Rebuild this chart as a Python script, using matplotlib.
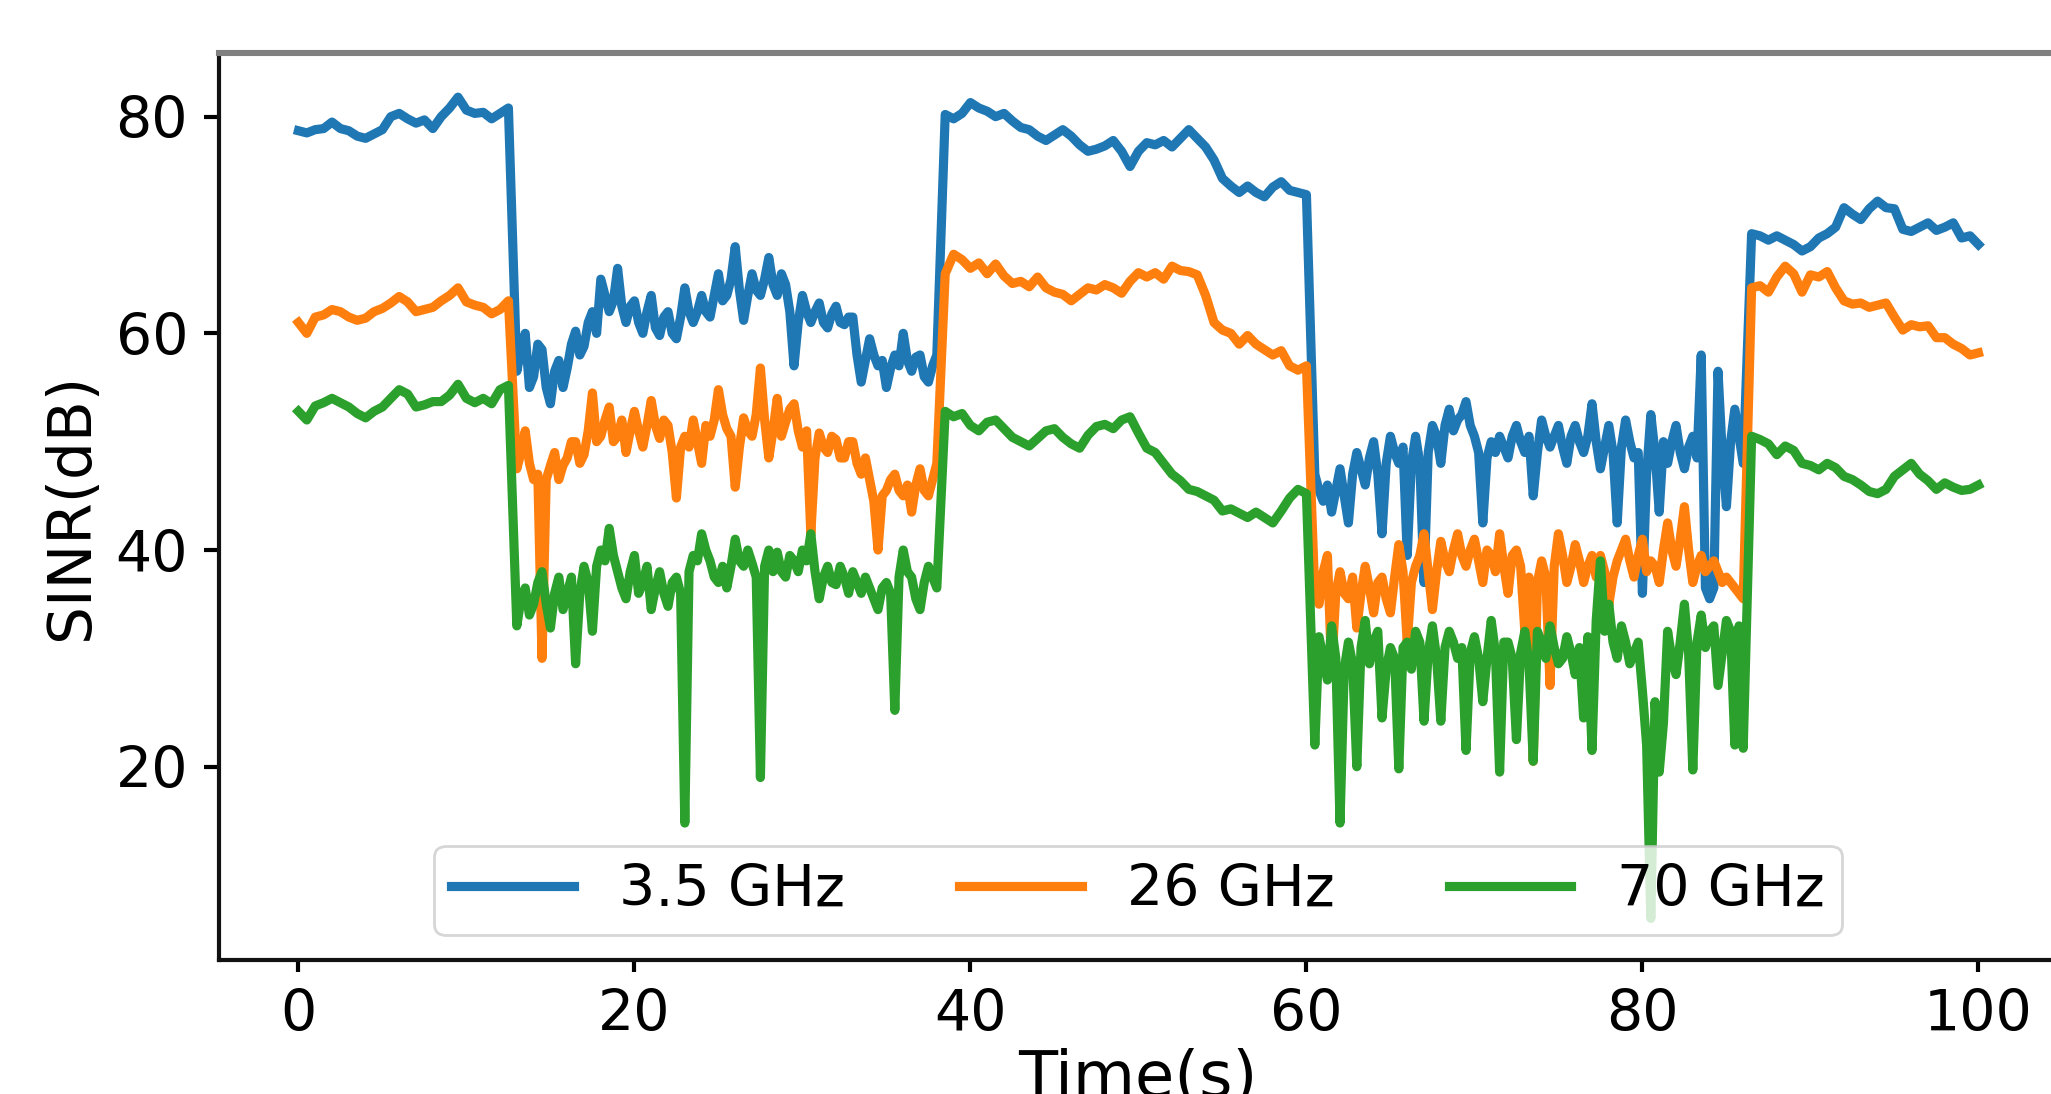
import matplotlib

matplotlib.use("Agg")
import matplotlib.pyplot as plt
import numpy as np

# sample times (s), 0.5 s grid
TIME = np.arange(0, 100.5, 0.5)
# extra in-between samples for the two noisy stretches (13-38 s, 60.5-86 s)
MID_TIME = np.concatenate([np.arange(13.25, 38.0, 0.5), np.arange(60.75, 86.0, 0.5)])

SINR_3_5GHZ = [
    # 0 - 12.5 s
    78.7, 78.5, 78.8, 78.9, 79.5, 78.9, 78.7, 78.2, 78.0, 78.4,
    78.8, 80.0, 80.3, 79.8, 79.4, 79.7, 78.9, 80.0, 80.8, 81.8,
    80.6, 80.3, 80.4, 79.8, 80.3, 80.8,
    # 13 - 38 s
    56.5, 60.0, 56.0, 58.5, 53.5, 57.5, 56.8, 60.2, 58.8, 62.0,
    65.0, 62.0, 66.0, 61.0, 63.0, 60.0, 63.5, 59.8, 62.0, 59.5,
    64.2, 61.0, 63.5, 61.5, 65.5, 63.5, 68.0, 61.2, 65.5, 63.5,
    67.0, 63.5, 64.5, 57.0, 63.5, 61.0, 62.8, 60.5, 62.5, 60.8,
    61.5, 55.5, 59.5, 57.0, 55.0, 58.0, 60.0, 56.5, 58.0, 55.5,
    58.0,
    # 38.5 - 60 s
    80.2, 79.8, 80.3, 81.3, 80.8, 80.5, 80.0, 80.3, 79.6, 79.0,
    78.8, 78.2, 77.8, 78.3, 78.8, 78.2, 77.4, 76.8, 77.0, 77.3,
    77.8, 76.8, 75.4, 76.8, 77.6, 77.4, 77.8, 77.2, 78.0, 78.8,
    78.0, 77.2, 76.0, 74.3, 73.6, 73.0, 73.6, 73.0, 72.6, 73.5,
    74.0, 73.2, 73.0, 72.8,
    # 60.5 - 86 s
    47.0, 44.5, 43.5, 47.5, 42.5, 49.0, 46.0, 50.0, 41.5, 50.5,
    48.0, 39.5, 50.5, 37.0, 51.5, 48.0, 53.0, 52.0, 53.7, 50.5,
    42.5, 50.0, 50.5, 48.5, 51.5, 49.0, 45.0, 52.0, 49.5, 51.5,
    48.0, 51.5, 49.0, 53.5, 47.5, 51.5, 42.5, 52.0, 48.5, 36.0,
    52.5, 43.5, 48.0, 51.5, 47.5, 50.5, 58.0, 35.5, 56.5, 44.0,
    53.0, 48.0,
    # 86.5 - 100 s
    69.2, 69.0, 68.6, 69.0, 68.6, 68.2, 67.6, 68.0, 68.8, 69.2,
    69.8, 71.6, 71.0, 70.5, 71.5, 72.2, 71.6, 71.5, 69.6, 69.4,
    69.8, 70.2, 69.5, 69.8, 70.2, 68.8, 69.0, 68.2,
]
MID_3_5GHZ = [
    # 13.25 - 37.75 s
    58.5, 55.0, 59.0, 55.0, 56.5, 55.0, 59.0, 58.0, 61.0, 60.0,
    63.5, 63.0, 62.5, 62.5, 61.0, 62.0, 60.5, 61.5, 60.0, 61.5,
    62.0, 62.0, 62.0, 63.5, 63.0, 65.0, 64.0, 63.5, 64.0, 65.0,
    64.5, 65.5, 62.0, 61.0, 62.0, 62.0, 61.0, 61.8, 61.0, 61.5,
    58.0, 57.5, 58.0, 57.5, 56.8, 57.0, 57.5, 57.8, 56.0, 57.0,
    # 60.75 - 85.75 s
    45.5, 46.0, 45.5, 45.0, 47.0, 47.5, 48.5, 47.0, 48.0, 49.0,
    49.5, 48.0, 48.0, 49.0, 50.5, 51.5, 51.0, 52.5, 51.5, 49.0,
    48.5, 49.0, 49.5, 50.5, 50.0, 50.5, 49.0, 50.5, 50.5, 49.5,
    50.5, 50.0, 50.5, 50.0, 49.5, 49.0, 49.5, 50.0, 49.0, 47.0,
    49.0, 50.0, 50.0, 49.0, 49.5, 48.5, 36.5, 36.5, 49.0, 50.0,
    50.5,
]

SINR_26GHZ = [
    # 0 - 12.5 s
    61.0, 60.0, 61.5, 61.7, 62.2, 62.0, 61.5, 61.2, 61.4, 62.0,
    62.3, 62.8, 63.4, 62.9, 62.0, 62.2, 62.4, 63.0, 63.5, 64.2,
    62.9, 62.6, 62.4, 61.8, 62.2, 63.0,
    # 13 - 38 s
    47.5, 51.0, 46.5, 30.0, 47.8, 46.5, 48.5, 50.0, 48.8, 54.5,
    50.5, 53.2, 50.5, 49.0, 52.8, 49.5, 53.8, 50.3, 51.5, 44.8,
    50.5, 52.0, 48.0, 50.5, 54.8, 51.2, 45.8, 52.2, 50.5, 56.8,
    48.5, 54.0, 51.8, 53.5, 49.5, 41.5, 50.8, 49.0, 50.2, 48.5,
    50.0, 47.0, 46.5, 40.0, 45.5, 47.0, 45.0, 43.5, 47.5, 45.0,
    48.0,
    # 38.5 - 60 s
    65.5, 67.3, 66.8, 66.0, 66.5, 65.5, 66.4, 65.3, 64.6, 64.8,
    64.3, 65.2, 64.2, 63.8, 63.6, 63.0, 63.6, 64.2, 64.0, 64.5,
    64.2, 63.7, 64.8, 65.6, 65.2, 65.6, 65.0, 66.2, 65.8, 65.7,
    65.4, 63.5, 61.0, 60.3, 60.0, 59.0, 59.8, 59.0, 58.5, 58.0,
    58.4, 57.0, 56.6, 57.0,
    # 60.5 - 86 s
    36.0, 38.0, 29.0, 38.0, 35.5, 32.8, 38.5, 34.2, 37.5, 34.2,
    40.5, 31.5, 38.5, 41.5, 34.5, 40.8, 38.0, 41.5, 38.5, 41.0,
    37.0, 39.5, 41.5, 36.0, 40.0, 32.5, 20.5, 39.0, 27.5, 41.5,
    37.0, 40.5, 37.0, 39.5, 39.5, 35.0, 39.0, 41.0, 37.5, 41.0,
    39.0, 37.0, 42.5, 38.5, 44.0, 37.0, 39.5, 38.5, 38.0, 37.5,
    36.5, 35.5,
    # 86.5 - 100 s
    64.2, 64.4, 63.8, 65.2, 66.2, 65.5, 63.8, 65.4, 65.2, 65.7,
    64.2, 63.0, 62.7, 62.8, 62.4, 62.6, 62.8, 61.5, 60.3, 60.8,
    60.6, 60.7, 59.6, 59.6, 59.0, 58.6, 58.0, 58.2,
]
MID_26GHZ = [
    # 13.25 - 37.75 s
    49.0, 48.0, 47.0, 46.5, 49.0, 47.8, 50.0, 48.0, 51.0, 50.0,
    52.0, 50.0, 52.0, 51.0, 51.0, 51.5, 51.5, 52.0, 49.0, 49.5,
    49.5, 50.0, 51.5, 52.0, 52.5, 50.5, 49.5, 51.0, 52.5, 52.0,
    51.0, 50.5, 53.0, 51.0, 51.0, 48.5, 49.5, 50.5, 48.5, 50.0,
    48.0, 48.5, 44.5, 45.0, 46.5, 45.5, 46.0, 46.0, 45.5, 46.5,
    # 60.75 - 85.75 s
    35.0, 39.5, 36.0, 36.0, 37.5, 36.0, 36.5, 37.0, 35.5, 37.5,
    38.0, 37.0, 39.5, 38.0, 38.0, 39.0, 40.0, 39.5, 40.0, 39.0,
    40.0, 38.0, 38.5, 39.5, 38.5, 37.5, 37.0, 37.5, 38.5, 39.5,
    38.5, 39.0, 38.5, 37.5, 38.0, 37.5, 40.0, 39.0, 39.5, 38.0,
    38.5, 40.0, 40.0, 41.0, 40.0, 38.5, 38.0, 39.0, 37.0, 37.0,
    36.0,
]

SINR_70GHZ = [
    # 0 - 12.5 s
    52.8, 52.0, 53.3, 53.6, 54.0, 53.6, 53.2, 52.6, 52.2, 52.8,
    53.2, 54.0, 54.8, 54.4, 53.2, 53.4, 53.7, 53.7, 54.3, 55.3,
    54.0, 53.6, 54.0, 53.5, 54.8, 55.2,
    # 13 - 38 s
    33.0, 36.5, 35.0, 38.0, 32.8, 37.5, 36.0, 29.5, 38.5, 32.5,
    40.0, 42.0, 38.0, 35.5, 39.5, 37.0, 34.5, 38.0, 34.8, 37.5,
    14.8, 39.5, 41.5, 39.0, 37.0, 36.5, 41.0, 38.5, 38.8, 19.0,
    40.0, 39.8, 37.5, 39.0, 40.0, 41.5, 35.5, 38.5, 36.8, 37.5,
    38.0, 36.0, 36.5, 34.5, 37.0, 25.2, 40.0, 37.5, 34.5, 38.5,
    36.5,
    # 38.5 - 60 s
    52.8, 52.3, 52.6, 51.5, 51.0, 51.8, 52.0, 51.2, 50.4, 50.0,
    49.6, 50.3, 51.0, 51.2, 50.4, 49.8, 49.4, 50.6, 51.4, 51.6,
    51.2, 52.0, 52.3, 50.8, 49.4, 49.0, 48.0, 47.0, 46.4, 45.6,
    45.4, 45.0, 44.6, 43.6, 43.8, 43.4, 43.0, 43.5, 43.0, 42.5,
    43.6, 44.8, 45.6, 45.2,
    # 60.5 - 86 s
    22.0, 30.0, 33.0, 14.8, 31.5, 20.0, 33.5, 31.5, 24.5, 31.0,
    19.8, 31.5, 32.5, 24.2, 33.0, 24.2, 32.5, 30.0, 21.5, 32.0,
    26.0, 33.5, 19.5, 31.5, 22.5, 32.5, 20.5, 31.5, 33.0, 29.5,
    32.0, 28.5, 24.5, 21.5, 39.0, 35.0, 30.0, 31.5, 30.5, 27.0,
    6.0, 19.5, 32.5, 28.5, 35.0, 19.7, 34.0, 32.5, 27.5, 33.5,
    22.0, 21.7,
    # 86.5 - 100 s
    50.5, 50.2, 49.8, 48.8, 49.6, 49.2, 48.0, 47.8, 47.4, 48.0,
    47.6, 46.8, 46.5, 46.0, 45.4, 45.2, 45.6, 46.8, 47.4, 48.0,
    47.0, 46.4, 45.6, 46.2, 45.8, 45.5, 45.6, 46.0,
]
MID_70GHZ = [
    # 13.25 - 37.75 s
    35.5, 34.0, 37.0, 35.0, 36.0, 34.5, 37.5, 36.0, 37.0, 38.5,
    39.0, 39.5, 36.5, 38.0, 36.0, 38.5, 36.5, 36.0, 37.0, 36.0,
    38.0, 39.0, 40.0, 37.5, 38.5, 38.5, 39.0, 40.0, 37.5, 38.5,
    38.0, 38.0, 39.5, 38.0, 39.0, 38.0, 37.5, 37.0, 38.5, 36.0,
    37.0, 37.5, 35.5, 36.5, 36.0, 37.5, 38.0, 35.5, 37.0, 37.5,
    # 60.75 - 85.75 s
    32.0, 28.0, 30.0, 29.0, 29.5, 31.0, 29.5, 32.5, 29.0, 30.0,
    31.0, 29.0, 31.5, 30.5, 30.0, 31.0, 31.5, 31.0, 30.5, 30.0,
    30.0, 30.5, 31.5, 30.0, 30.5, 29.5, 32.5, 30.0, 31.0, 30.0,
    30.5, 31.0, 32.0, 33.5, 32.5, 31.5, 33.0, 29.5, 31.5, 22.0,
    26.0, 24.0, 30.0, 31.5, 30.5, 31.5, 31.0, 33.0, 30.5, 32.5,
    33.0,
]

SERIES = (
    ("3.5 GHz", SINR_3_5GHZ, MID_3_5GHZ, "#1f77b4"),
    ("26 GHz", SINR_26GHZ, MID_26GHZ, "#ff7f0e"),
    ("70 GHz", SINR_70GHZ, MID_70GHZ, "#2ca02c"),
)

X_TICKS = [0, 20, 40, 60, 80, 100]
Y_TICKS = [20, 40, 60, 80]


def merged(values: list[float], mids: list[float]) -> tuple[np.ndarray, np.ndarray]:
    if len(values) != len(TIME) or len(mids) != len(MID_TIME):
        raise ValueError("series length does not match its time grid")
    times = np.concatenate([TIME, MID_TIME])
    sinr = np.concatenate([np.asarray(values), np.asarray(mids)])
    order = np.argsort(times, kind="stable")
    return times[order], sinr[order]


def main() -> None:
    plt.rcParams.update({"font.family": "DejaVu Sans"})
    dpi = 200
    fig = plt.figure(figsize=(2051 / dpi, 1094 / dpi), dpi=dpi)
    # the axes runs slightly past the right edge of the picture
    ax = fig.add_axes([0.1070, 0.1225, 0.8957, 0.8288])

    for label, values, mids, color in SERIES:
        times, sinr = merged(values, mids)
        ax.plot(times, sinr, color=color, linewidth=3.3, label=label)

    ax.set_xlim(-4.7, 104.65)
    ax.set_ylim(2.16, 85.85)
    ax.set_xticks(X_TICKS)
    ax.set_yticks(Y_TICKS)

    for side in ("left", "bottom"):
        ax.spines[side].set_linewidth(1.5)
        ax.spines[side].set_color("#111111")
    ax.spines["top"].set_linewidth(2.2)
    ax.spines["top"].set_color("#808080")

    ax.tick_params(axis="x", length=4.3, width=1.5, pad=5.8, labelsize=20.5)
    ax.tick_params(axis="y", length=5.4, width=1.5, pad=5.9, labelsize=20.5)

    ax.set_xlabel("Time(s)", fontsize=23)
    ax.set_ylabel("SINR(dB)", fontsize=21.5)
    ax.xaxis.set_label_coords(0.5, -0.097)
    ax.yaxis.set_label_coords(-0.0645, 0.5)

    ax.legend(
        loc="lower center",
        ncol=3,
        fontsize=20.5,
        borderpad=0.3,
        borderaxespad=0.44,
        handlelength=2.15,
        handletextpad=0.8,
        columnspacing=2.0,
    )

    fig.savefig("out.png", dpi=dpi)
    plt.close(fig)


if __name__ == "__main__":
    main()
